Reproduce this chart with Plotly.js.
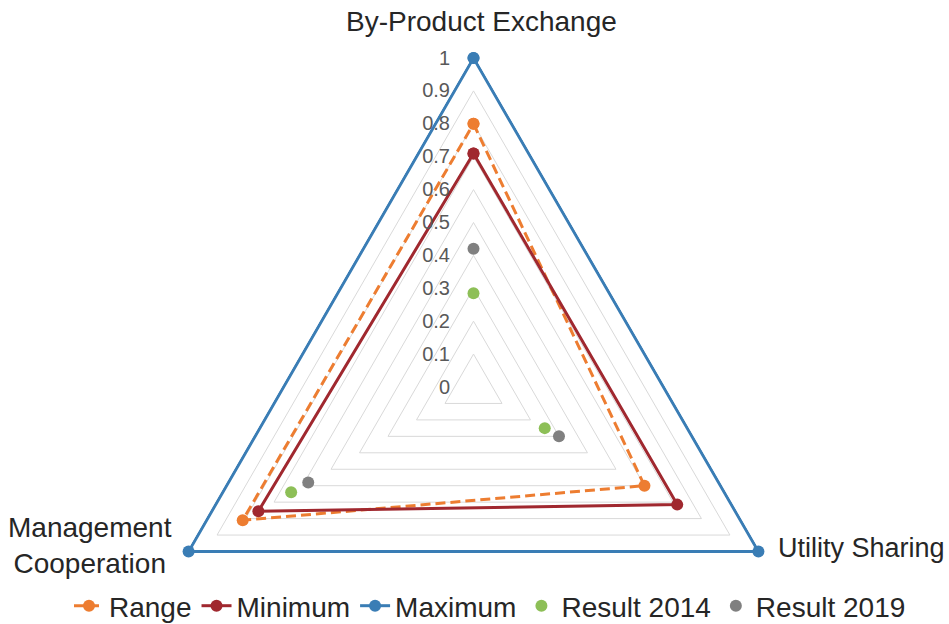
<!DOCTYPE html>
<html><head><meta charset="utf-8">
<script src="https://cdn.plot.ly/plotly-3.0.1.min.js"></script>
<style>
html,body{margin:0;padding:0;background:#fff;overflow:hidden}
#wrap{width:949px;height:624px;overflow:hidden;position:relative}
#chart{width:949px;height:760px}
</style></head>
<body><div id="wrap"><div id="chart"></div></div>
<script>
const categories = ["By-Product Exchange", "Utility Sharing", "Management Cooperation"];
const rangeVals = [0.80, 0.60, 0.81];
const minimumVals = [0.71, 0.715, 0.755];
const maximumVals = [1, 1, 1];
const result2014 = [0.285, 0.25, 0.64];
const result2019 = [0.42, 0.30, 0.58];
const radialTickVals = [0, 0.1, 0.2, 0.3, 0.4, 0.5, 0.6, 0.7, 0.8, 0.9, 1];
const radialTickText = ["0", "0.1", "0.2", "0.3", "0.4", "0.5", "0.6", "0.7", "0.8", "0.9", "1"];

const closeLoop = a => a.concat([a[0]]);
const H = 760;
const FONT = "Liberation Sans, Arial, sans-serif";
const py = v => 1 - v / H;
const RMAX = 1.01;            // small headroom so the r=1 line is not clipped
const R1 = 329, CX = 473.5, CY = 387;
const RE = R1 * RMAX;
const PAD = "\u2002\u2002";  // trailing space to push labels left of the axis

const traces = [
  {name: "Range", r: closeLoop(rangeVals), theta: closeLoop(categories), type: "scatterpolar", mode: "lines+markers",
   cliponaxis: false, line: {color: "#ED7D31", width: 3, dash: "10px,5px"}, marker: {color: "#ED7D31", size: 12}},
  {name: "Minimum", r: closeLoop(minimumVals), theta: closeLoop(categories), type: "scatterpolar", mode: "lines+markers",
   cliponaxis: false, line: {color: "#A0282F", width: 3}, marker: {color: "#A0282F", size: 12}},
  {name: "Maximum", r: closeLoop(maximumVals), theta: closeLoop(categories), type: "scatterpolar", mode: "lines+markers",
   cliponaxis: false, line: {color: "#3A7DB5", width: 3}, marker: {color: "#3A7DB5", size: 12}},
  {name: "Result 2014", r: result2014, theta: categories, type: "scatterpolar", mode: "markers",
   cliponaxis: false, marker: {color: "#8DBF57", size: 12}},
  {name: "Result 2019", r: result2019, theta: categories, type: "scatterpolar", mode: "markers",
   cliponaxis: false, marker: {color: "#808080", size: 12}}
];

const labelFont = {family: FONT, size: 27, color: "#262626"};
const annotations = [
  {text: categories[0], xref: "paper", yref: "paper", x: 481 / 949, y: py(22), xanchor: "center", yanchor: "middle", showarrow: false, font: {family: FONT, size: 28, color: "#262626"}},
  {text: categories[1], xref: "paper", yref: "paper", x: 776 / 949, y: py(548), xanchor: "left", yanchor: "middle", showarrow: false, font: labelFont},
  {text: categories[2].replace(" ", "<br>"), xref: "paper", yref: "paper", x: 90 / 949, y: py(545), xanchor: "center", yanchor: "middle", align: "center", showarrow: false, font: {family: FONT, size: 28, color: "#262626"}}
];

const layout = {
  width: 949, height: H,
  margin: {l: 0, r: 0, t: 0, b: 0},
  paper_bgcolor: "#fff",
  font: {family: FONT, color: "#404040"},
  showlegend: true,
  legend: {orientation: "h", x: 490 / 949, xanchor: "center", y: py(606), yanchor: "middle",
           font: {family: FONT, size: 28, color: "#262626"}, itemwidth: 30, traceorder: "normal"},
  annotations: annotations,
  polar: {
    domain: {x: [(CX - RE) / 949, (CX + RE) / 949], y: [py(CY + RE), py(CY - RE)]},
    gridshape: "linear",
    bgcolor: "rgba(0,0,0,0)",
    angularaxis: {type: "category", rotation: 90, direction: "clockwise", showgrid: false, showline: false,
                  ticks: "", showticklabels: false},
    radialaxis: {range: [0, RMAX], angle: 90, side: "counterclockwise", showline: false, ticks: "",
                 tickangle: 90, tickvals: radialTickVals, ticktext: radialTickText.map(t => t + PAD),
                 gridcolor: "#D9D9D9", gridwidth: 1,
                 tickfont: {family: FONT, size: 20, color: "#595959"}}
  }
};
Plotly.newPlot("chart", traces, layout, {displayModeBar: false, staticPlot: true});
</script>
</body></html>
